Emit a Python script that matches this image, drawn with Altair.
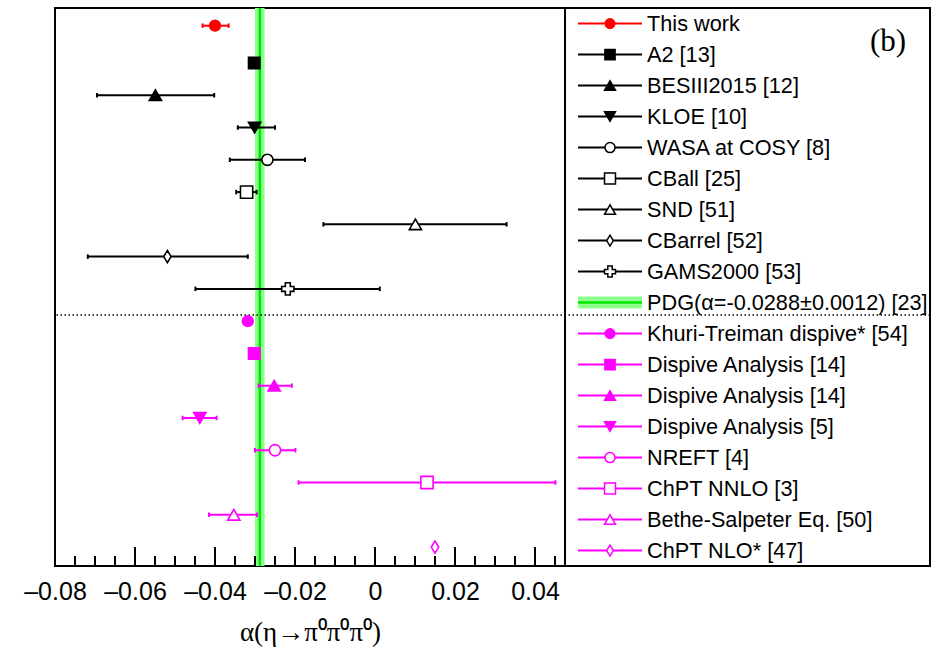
import altair as alt
import pandas as pd

# ---------------- data ----------------
names = ["This work", "A2 [13]", "BESIII2015 [12]", "KLOE [10]", "WASA at COSY [8]",
         "CBall [25]", "SND [51]", "CBarrel [52]", "GAMS2000 [53]",
         "Khuri-Treiman dispive* [54]", "Dispive Analysis [14]", "Dispive Analysis [14]",
         "Dispive Analysis [5]", "NREFT [4]", "ChPT NNLO [3]", "Bethe-Salpeter Eq. [50]",
         "ChPT NLO* [47]"]
alpha = [-0.0400, -0.0302, -0.0549, -0.0301, -0.0269, -0.0321, 0.0101, -0.0519, -0.0218,
         -0.0318, -0.0302, -0.0252, -0.0438, -0.0250, 0.0130, -0.0353, 0.0150]
alpha_lo = [-0.0431, -0.0313, -0.0695, -0.0343, -0.0363, -0.0347, -0.0129, -0.0718, -0.0449,
            -0.0322, -0.0306, -0.0291, -0.0481, -0.0300, -0.0191, -0.0415, 0.0150]
alpha_hi = [-0.0366, -0.0291, -0.0402, -0.0250, -0.0175, -0.0296, 0.0329, -0.0318, 0.0012,
            -0.0314, -0.0298, -0.0208, -0.0396, -0.0199, 0.0451, -0.0295, 0.0150]
groups = ["this"] + ["exp"] * 8 + ["theory"] * 8
markers = ["circle", "square", "triangle-up", "triangle-down", "circle", "square",
           "triangle-up", "diamond", "cross",
           "circle", "square", "triangle-up", "triangle-down", "circle", "square",
           "triangle-up", "diamond"]
filled = [True, True, True, True, False, False, False, False, False,
          True, True, True, True, False, False, False, False]

pdg_value = -0.0288
pdg_error = 0.0012
pdg_label = "PDG(α=-0.0288±0.0012) [23]"
panel_label = "(b)"
x_title = "α(η→π⁰π⁰π⁰)"

major_ticks = [-0.08, -0.06, -0.04, -0.02, 0.0, 0.02, 0.04]
minor_ticks = [-0.075, -0.07, -0.065, -0.055, -0.05, -0.045, -0.035, -0.03, -0.025,
               -0.015, -0.01, -0.005, 0.005, 0.01, 0.015, 0.025, 0.03, 0.035, 0.045]

# ---------------- styles / layout ----------------
COLORS = {"this": "#ff0000", "exp": "#000000", "theory": "#ff00ff"}
DIAMOND = "M0,-1L0.6,0L0,1L-0.6,0Z"
SIZE_F = {"circle": 115, "square": 130, "triangle-up": 150, "triangle-down": 150}
SIZE_O = {"circle": 125, "square": 150, "triangle-up": 150, "diamond": 150, "cross": 150}

W, H = 875, 558
W_PLOT = 510
FONT = "Liberation Sans"
SERIF = "Liberation Serif"

# row positions (row units; This work sits a bit higher)
rows = [-0.156] + list(range(1, 17))
y_domain = [-0.704, 16.587]
sep_row = 8.809

xscale = alt.Scale(domain=[-0.08, 0.0475], range=[0, W_PLOT], nice=False, zero=False)
yscale = alt.Scale(domain=y_domain, reverse=True, nice=False, zero=False)

def shape_of(m):
    return DIAMOND if m == "diamond" else m

df = pd.DataFrame({
    "name": names, "alpha": alpha, "lo": alpha_lo, "hi": alpha_hi, "row": rows,
    "color": [COLORS[g] for g in groups],
    "fill": [COLORS[g] if f else "#ffffff" for g, f in zip(groups, filled)],
    "shape": [shape_of(m) for m in markers],
    "size": [SIZE_F[m] if f else SIZE_O[m] for m, f in zip(markers, filled)],
})
caps = pd.concat([
    df[["lo", "row", "color"]].rename(columns={"lo": "x"}),
    df[["hi", "row", "color"]].rename(columns={"hi": "x"}),
])
caps = caps[[l != h for l, h in zip(list(df["lo"]) * 2, list(df["hi"]) * 2)]]

# band
band = alt.Chart(pd.DataFrame({"lo": [pdg_value - pdg_error], "hi": [pdg_value + pdg_error]})).mark_rect(
    color="#8cff8c").encode(
    x=alt.X("lo:Q", scale=xscale, axis=None), x2="hi:Q",
    y=alt.value(0), y2=alt.value(H))
band_line = alt.Chart(pd.DataFrame({"v": [pdg_value]})).mark_rule(
    color="#00e600", strokeWidth=2.5).encode(
    x=alt.X("v:Q", scale=xscale, axis=None), y=alt.value(0), y2=alt.value(H))

sep = alt.Chart(pd.DataFrame({"r": [sep_row]})).mark_rule(
    color="#000000", strokeWidth=1.5, strokeDash=[1.5, 2.5]).encode(
    y=alt.Y("r:Q", scale=yscale, axis=None))

divider = alt.Chart(pd.DataFrame({"a": [0]})).mark_rule(color="black", strokeWidth=2).encode(
    x=alt.value(W_PLOT), y=alt.value(0), y2=alt.value(H))

xaxis = alt.Axis(values=major_ticks, ticks=False, tickSize=0, domain=False, grid=False,
                 labelExpr="datum.value == 0 ? '0' : (datum.value < 0 ? '–' + format(-datum.value, '.2f') : format(datum.value, '.2f'))",
                 labelFont=FONT, labelFontSize=25, labelColor="black", labelPadding=13,
                 labelFlush=False, labelOverlap=False, labelBound=False,
                 title=x_title, titleFont=SERIF, titleFontSize=27, titleFontWeight="normal",
                 titleColor="black", titlePadding=15)

bars = alt.Chart(df).mark_rule(strokeWidth=2).encode(
    x=alt.X("lo:Q", scale=xscale, axis=xaxis), x2="hi:Q",
    y=alt.Y("row:Q", scale=yscale, axis=None),
    color=alt.Color("color:N", scale=None))

capmarks = alt.Chart(caps).mark_point(shape="M0,-1L0,1", size=20, strokeWidth=2, opacity=1).encode(
    x=alt.X("x:Q", scale=xscale, axis=None),
    y=alt.Y("row:Q", scale=yscale, axis=None),
    stroke=alt.Stroke("color:N", scale=None))

points = alt.Chart(df).mark_point(strokeWidth=1.6, opacity=1, fillOpacity=1).encode(
    x=alt.X("alpha:Q", scale=xscale, axis=None),
    y=alt.Y("row:Q", scale=yscale, axis=None),
    shape=alt.Shape("shape:N", scale=None),
    fill=alt.Fill("fill:N", scale=None),
    stroke=alt.Stroke("color:N", scale=None),
    size=alt.Size("size:Q", scale=None))

tick_df = pd.DataFrame({"t": major_ticks + minor_ticks,
                        "len": [19] * len(major_ticks) + [10] * len(minor_ticks)})
tick_df["top"] = H - tick_df["len"]
tick_df["bot"] = H
ticks = alt.Chart(tick_df).mark_rule(color="black", strokeWidth=2).encode(
    x=alt.X("t:Q", scale=xscale, axis=None),
    y=alt.Y("top:Q", scale=None, axis=None), y2="bot:Q")

# ---------------- custom legend (right panel) ----------------
LX0, LX1, LXM, LXT = 523, 587, 555, 592
LY0, LDY = 15.6, 31.0
leg_rows = []
for i in range(len(names)):
    slot = i if i < 9 else i + 1
    leg_rows.append(dict(name=names[i], y=LY0 + LDY * slot, x0=LX0, x1=LX1, xm=LXM, xt=LXT,
                         color=df["color"][i], fill=df["fill"][i], shape=df["shape"][i],
                         size=df["size"][i] * 0.8))
leg = pd.DataFrame(leg_rows)
pdg_y = LY0 + LDY * 9
leg_pdg = pd.DataFrame([dict(name=pdg_label, y=pdg_y, y0=pdg_y - 6, y1=pdg_y + 6,
                             x0=LX0, x1=LX1, xt=LXT)])

leg_lines = alt.Chart(leg).mark_rule(strokeWidth=2).encode(
    x=alt.X("x0:Q", scale=None, axis=None), x2="x1:Q",
    y=alt.Y("y:Q", scale=None, axis=None),
    color=alt.Color("color:N", scale=None))
leg_marks = alt.Chart(leg).mark_point(strokeWidth=1.5, opacity=1, fillOpacity=1).encode(
    x=alt.X("xm:Q", scale=None, axis=None),
    y=alt.Y("y:Q", scale=None, axis=None),
    shape=alt.Shape("shape:N", scale=None),
    fill=alt.Fill("fill:N", scale=None),
    stroke=alt.Stroke("color:N", scale=None),
    size=alt.Size("size:Q", scale=None))
leg_text = alt.Chart(pd.concat([leg[["name", "y", "xt"]], leg_pdg[["name", "y", "xt"]]])).mark_text(
    align="left", baseline="middle", font=FONT, fontSize=21.7, color="black").encode(
    x=alt.X("xt:Q", scale=None, axis=None),
    y=alt.Y("y:Q", scale=None, axis=None),
    text="name:N")
leg_band = alt.Chart(leg_pdg).mark_rect(color="#8cff8c").encode(
    x=alt.X("x0:Q", scale=None, axis=None), x2="x1:Q",
    y=alt.Y("y0:Q", scale=None, axis=None), y2="y1:Q")
leg_band_line = alt.Chart(leg_pdg).mark_rule(color="#00e600", strokeWidth=2.5).encode(
    x=alt.X("x0:Q", scale=None, axis=None), x2="x1:Q",
    y=alt.Y("y:Q", scale=None, axis=None))
label_b = alt.Chart(pd.DataFrame({"t": [panel_label]})).mark_text(
    font=SERIF, fontSize=31, align="center", baseline="middle", color="black").encode(
    x=alt.value(833), y=alt.value(34), text="t:N")

chart = alt.layer(
    band, band_line, sep, bars, capmarks, points, ticks, divider,
    leg_band, leg_band_line, leg_lines, leg_marks, leg_text, label_b
).resolve_scale(x="independent", y="independent").properties(
    width=W, height=H,
    autosize=alt.AutoSizeParams(type="none"),
    padding={"left": 55, "top": 8, "right": 18, "bottom": 81},
).configure_view(stroke="black", strokeWidth=2)

chart.save("out.html", embed_options={"renderer": "svg", "actions": False})
